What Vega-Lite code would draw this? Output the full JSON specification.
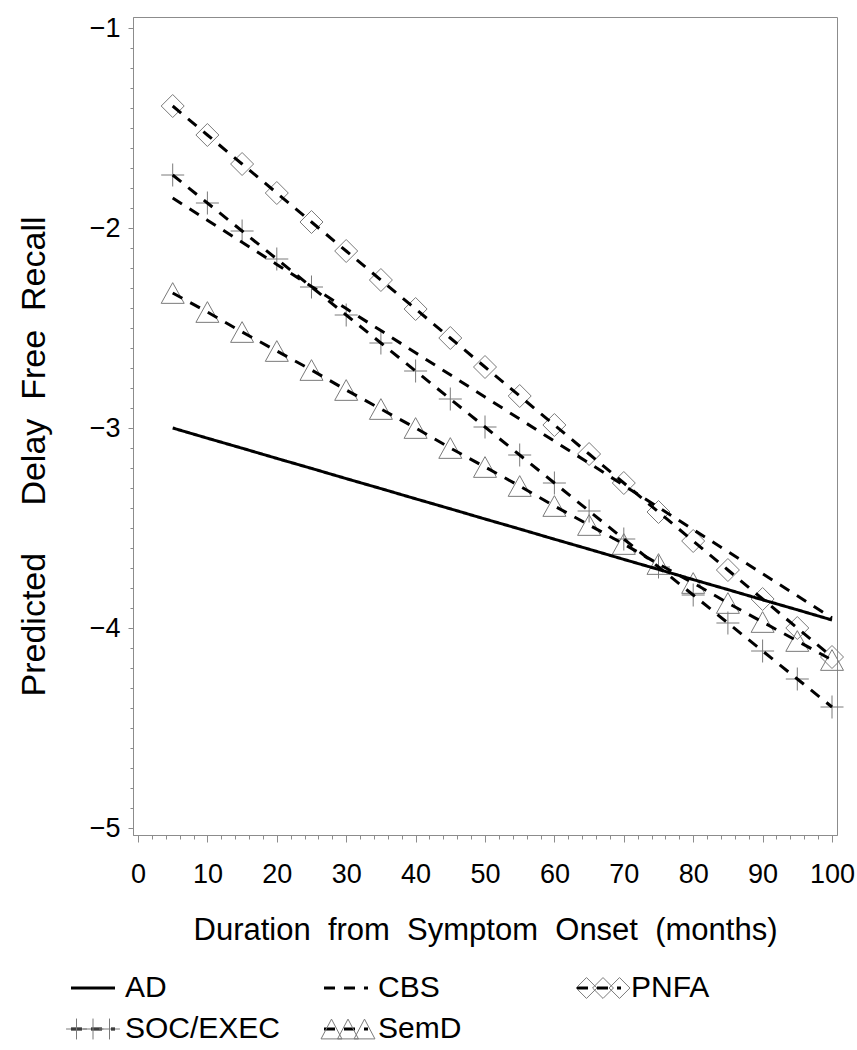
{
  "$schema": "https://vega.github.io/schema/vega-lite/v6.json",
  "width": 704,
  "height": 818,
  "autosize": {"type": "none"},
  "padding": {"left": 133, "top": 17, "right": 20, "bottom": 215},
  "background": "white",
  "config": {
    "view": {"stroke": "#8c8c8c", "strokeWidth": 1},
    "font": "Liberation Sans"
  },
  "data": {
    "values": [
      {"month": 5, "group": "AD", "value": -3.00}, {"month": 10, "group": "AD", "value": -3.051}, {"month": 15, "group": "AD", "value": -3.101}, {"month": 20, "group": "AD", "value": -3.152}, {"month": 25, "group": "AD", "value": -3.202}, {"month": 30, "group": "AD", "value": -3.253}, {"month": 35, "group": "AD", "value": -3.303}, {"month": 40, "group": "AD", "value": -3.354}, {"month": 45, "group": "AD", "value": -3.404}, {"month": 50, "group": "AD", "value": -3.455}, {"month": 55, "group": "AD", "value": -3.505}, {"month": 60, "group": "AD", "value": -3.556}, {"month": 65, "group": "AD", "value": -3.606}, {"month": 70, "group": "AD", "value": -3.657}, {"month": 75, "group": "AD", "value": -3.707}, {"month": 80, "group": "AD", "value": -3.758}, {"month": 85, "group": "AD", "value": -3.808}, {"month": 90, "group": "AD", "value": -3.859}, {"month": 95, "group": "AD", "value": -3.909}, {"month": 100, "group": "AD", "value": -3.96},
      {"month": 5, "group": "CBS", "value": -1.85}, {"month": 10, "group": "CBS", "value": -1.961}, {"month": 15, "group": "CBS", "value": -2.071}, {"month": 20, "group": "CBS", "value": -2.182}, {"month": 25, "group": "CBS", "value": -2.292}, {"month": 30, "group": "CBS", "value": -2.403}, {"month": 35, "group": "CBS", "value": -2.513}, {"month": 40, "group": "CBS", "value": -2.624}, {"month": 45, "group": "CBS", "value": -2.734}, {"month": 50, "group": "CBS", "value": -2.845}, {"month": 55, "group": "CBS", "value": -2.955}, {"month": 60, "group": "CBS", "value": -3.066}, {"month": 65, "group": "CBS", "value": -3.176}, {"month": 70, "group": "CBS", "value": -3.287}, {"month": 75, "group": "CBS", "value": -3.397}, {"month": 80, "group": "CBS", "value": -3.508}, {"month": 85, "group": "CBS", "value": -3.618}, {"month": 90, "group": "CBS", "value": -3.729}, {"month": 95, "group": "CBS", "value": -3.839}, {"month": 100, "group": "CBS", "value": -3.95},
      {"month": 5, "group": "PNFA", "value": -1.39}, {"month": 10, "group": "PNFA", "value": -1.535}, {"month": 15, "group": "PNFA", "value": -1.68}, {"month": 20, "group": "PNFA", "value": -1.825}, {"month": 25, "group": "PNFA", "value": -1.97}, {"month": 30, "group": "PNFA", "value": -2.115}, {"month": 35, "group": "PNFA", "value": -2.26}, {"month": 40, "group": "PNFA", "value": -2.405}, {"month": 45, "group": "PNFA", "value": -2.55}, {"month": 50, "group": "PNFA", "value": -2.695}, {"month": 55, "group": "PNFA", "value": -2.84}, {"month": 60, "group": "PNFA", "value": -2.985}, {"month": 65, "group": "PNFA", "value": -3.13}, {"month": 70, "group": "PNFA", "value": -3.275}, {"month": 75, "group": "PNFA", "value": -3.42}, {"month": 80, "group": "PNFA", "value": -3.565}, {"month": 85, "group": "PNFA", "value": -3.71}, {"month": 90, "group": "PNFA", "value": -3.855}, {"month": 95, "group": "PNFA", "value": -4.00}, {"month": 100, "group": "PNFA", "value": -4.145},
      {"month": 5, "group": "SOC/EXEC", "value": -1.735}, {"month": 10, "group": "SOC/EXEC", "value": -1.875}, {"month": 15, "group": "SOC/EXEC", "value": -2.015}, {"month": 20, "group": "SOC/EXEC", "value": -2.155}, {"month": 25, "group": "SOC/EXEC", "value": -2.295}, {"month": 30, "group": "SOC/EXEC", "value": -2.435}, {"month": 35, "group": "SOC/EXEC", "value": -2.575}, {"month": 40, "group": "SOC/EXEC", "value": -2.715}, {"month": 45, "group": "SOC/EXEC", "value": -2.855}, {"month": 50, "group": "SOC/EXEC", "value": -2.995}, {"month": 55, "group": "SOC/EXEC", "value": -3.135}, {"month": 60, "group": "SOC/EXEC", "value": -3.275}, {"month": 65, "group": "SOC/EXEC", "value": -3.415}, {"month": 70, "group": "SOC/EXEC", "value": -3.555}, {"month": 75, "group": "SOC/EXEC", "value": -3.695}, {"month": 80, "group": "SOC/EXEC", "value": -3.835}, {"month": 85, "group": "SOC/EXEC", "value": -3.975}, {"month": 90, "group": "SOC/EXEC", "value": -4.115}, {"month": 95, "group": "SOC/EXEC", "value": -4.255}, {"month": 100, "group": "SOC/EXEC", "value": -4.395},
      {"month": 5, "group": "SemD", "value": -2.325}, {"month": 10, "group": "SemD", "value": -2.42}, {"month": 15, "group": "SemD", "value": -2.52}, {"month": 20, "group": "SemD", "value": -2.615}, {"month": 25, "group": "SemD", "value": -2.71}, {"month": 30, "group": "SemD", "value": -2.81}, {"month": 35, "group": "SemD", "value": -2.905}, {"month": 40, "group": "SemD", "value": -3.00}, {"month": 45, "group": "SemD", "value": -3.10}, {"month": 50, "group": "SemD", "value": -3.195}, {"month": 55, "group": "SemD", "value": -3.29}, {"month": 60, "group": "SemD", "value": -3.39}, {"month": 65, "group": "SemD", "value": -3.485}, {"month": 70, "group": "SemD", "value": -3.58}, {"month": 75, "group": "SemD", "value": -3.68}, {"month": 80, "group": "SemD", "value": -3.775}, {"month": 85, "group": "SemD", "value": -3.875}, {"month": 90, "group": "SemD", "value": -3.97}, {"month": 95, "group": "SemD", "value": -4.065}, {"month": 100, "group": "SemD", "value": -4.16}
    ]
  },
  "resolve": {"axis": {"x": "independent", "y": "independent"}, "scale": {"shape": "independent"}},
  "layer": [
    {
      "transform": [{"filter": "datum.group !== 'AD' && datum.group !== 'CBS'"}],
      "mark": {"type": "point", "filled": false, "color": "#7a7a7a", "strokeWidth": 1, "size": 529, "opacity": 1},
      "encoding": {
        "x": {
          "field": "month", "type": "quantitative",
          "scale": {"domain": [-0.72, 100.72], "nice": false, "zero": false},
          "axis": {"orient": "bottom", "values": [2,4,6,8,12,14,16,18,22,24,26,28,32,34,36,38,42,44,46,48,52,54,56,58,62,64,66,68,72,74,76,78,82,84,86,88,92,94,96,98], "labels": false, "domain": false, "grid": false, "tickSize": 4, "tickColor": "#8c8c8c", "title": null}
        },
        "y": {
          "field": "value", "type": "quantitative",
          "scale": {"domain": [-5.035, -0.945], "nice": false, "zero": false},
          "axis": {"orient": "left", "values": [-4.9,-4.8,-4.7,-4.6,-4.5,-4.4,-4.3,-4.2,-4.1,-3.9,-3.8,-3.7,-3.6,-3.5,-3.4,-3.3,-3.2,-3.1,-2.9,-2.8,-2.7,-2.6,-2.5,-2.4,-2.3,-2.2,-2.1,-1.9,-1.8,-1.7,-1.6,-1.5,-1.4,-1.3,-1.2,-1.1], "labels": false, "domain": false, "grid": false, "tickSize": 3, "tickColor": "#8c8c8c", "title": null}
        },
        "shape": {
          "field": "group", "type": "nominal",
          "scale": {
            "domain": ["PNFA", "SOC/EXEC", "SemD"],
            "range": ["diamond", "M-1,0L1,0M0,-1L0,1", "M0,-0.9L1,0.9L-1,0.9Z"]
          },
          "legend": null
        }
      }
    },
    {
      "mark": {"type": "point", "filled": false, "color": "#7a7a7a", "strokeWidth": 1, "size": 484, "opacity": 0},
      "encoding": {
        "x": {"field": "month", "type": "quantitative", "scale": {"domain": [-0.72, 100.72], "nice": false, "zero": false}, "axis": null},
        "y": {"field": "value", "type": "quantitative", "scale": {"domain": [-5.035, -0.945], "nice": false, "zero": false}, "axis": null},
        "shape": {
          "field": "group", "type": "nominal",
          "scale": {
            "domain": ["AD", "CBS", "PNFA", "SOC/EXEC", "SemD"],
            "range": ["M0,0", "M0,0",
              "M-2.45,0L-1.5,-0.95L-0.55,0L-1.5,0.95Z M-0.95,0L0,-0.95L0.95,0L0,0.95Z M0.55,0L1.5,-0.95L2.45,0L1.5,0.95Z",
              "M-2.45,0L-0.55,0M-1.5,-0.95L-1.5,0.95M-0.95,0L0.95,0M0,-0.95L0,0.95M0.55,0L2.45,0M1.5,-0.95L1.5,0.95",
              "M-2.45,0.9L-1.5,-0.9L-0.55,0.9Z M-0.95,0.9L0,-0.9L0.95,0.9Z M0.55,0.9L1.5,-0.9L2.45,0.9Z"]
          },
          "legend": {
            "orient": "none", "legendX": -55, "legendY": 956, "columns": 3, "direction": "horizontal", "gridAlign": "all",
            "columnPadding": 194, "rowPadding": 11, "padding": 0, "title": null,
            "labelFont": "Liberation Sans", "labelFontSize": 30, "labelExpr": "' '", "labelOffset": 17, "labelLimit": 400,
            "symbolSize": 484, "symbolStrokeColor": "#7a7a7a", "symbolStrokeWidth": 1, "symbolFillColor": "transparent", "symbolOpacity": 1
          }
        }
      }
    },
    {
      "mark": {"type": "line", "color": "black", "strokeWidth": 3, "strokeCap": "butt"},
      "encoding": {
        "x": {
          "field": "month", "type": "quantitative",
          "scale": {"domain": [-0.72, 100.72], "nice": false, "zero": false},
          "axis": {"orient": "bottom", "values": [0,10,20,30,40,50,60,70,80,90,100], "format": "d", "grid": false,
            "domainColor": "#8c8c8c", "tickColor": "#8c8c8c", "tickSize": 7, "labelPadding": 19,
            "labelFont": "Liberation Sans", "labelFontSize": 27, "labelColor": "black", "labelFlush": false, "labelOverlap": false,
            "title": "Duration\u00a0 from\u00a0 Symptom\u00a0 Onset\u00a0 (months)", "titleFont": "Liberation Sans", "titleFontSize": 31, "titleFontWeight": "normal", "titleColor": "black", "titleY": 80}
        },
        "y": {
          "field": "value", "type": "quantitative",
          "scale": {"domain": [-5.035, -0.945], "nice": false, "zero": false},
          "axis": {"orient": "left", "values": [-5,-4,-3,-2,-1], "format": "d", "grid": false,
            "domainColor": "#8c8c8c", "tickColor": "#8c8c8c", "tickSize": 5, "labelPadding": 8,
            "labelFont": "Liberation Sans", "labelFontSize": 27, "labelColor": "black", "labelFlush": false, "labelOverlap": false,
            "title": "Predicted\u00a0 \u00a0 \u00a0Delay\u00a0 Free\u00a0 Recall", "titleFont": "Liberation Sans", "titleFontSize": 34, "titleFontWeight": "normal", "titleColor": "black", "titleX": -82, "titleY": 439}
        },
        "strokeDash": {
          "field": "group", "type": "nominal",
          "scale": {"range": [[1, 0], [11, 9], [11, 9], [11, 9], [11, 9]]},
          "legend": {
            "orient": "none", "legendX": -55, "legendY": 956, "columns": 3, "direction": "horizontal", "gridAlign": "all",
            "columnPadding": 37, "rowPadding": 11, "padding": 0, "title": null,
            "labelFont": "Liberation Sans", "labelFontSize": 30, "labelColor": "black", "labelOffset": 17, "labelLimit": 400,
            "symbolSize": 484, "symbolType": "M-2,0L2,0", "symbolStrokeColor": "black", "symbolStrokeWidth": 3
          }
        }
      }
    }
  ]
}
